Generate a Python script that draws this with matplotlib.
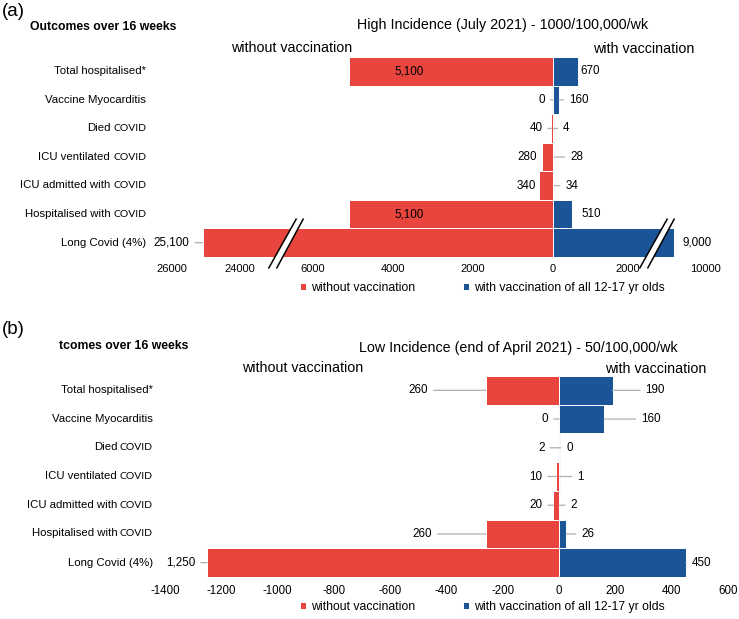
import numpy as np
import matplotlib
matplotlib.use("Agg")
import matplotlib.pyplot as plt
from matplotlib.path import Path
from matplotlib.ticker import FixedLocator, FuncFormatter

plt.rcParams['font.family'] = ['Liberation Sans', 'DejaVu Sans']

# ----------------------------
# data
# ----------------------------
cat_main = ["Total hospitalised*", "Vaccine Myocarditis", "Died", "ICU ventilated",
            "ICU admitted with", "Hospitalised with", "Long Covid (4%)"]
cat_suffix = ["", "", "COVID", "COVID", "COVID", "COVID", ""]

high_without = [5100, 0, 40, 280, 340, 5100, 25100]
high_with = [670, 160, 4, 28, 34, 510, 9000]
high_ticks = [-26000, -24000, -6000, -4000, -2000, 0, 2000, 10000]

low_without = [260, 0, 2, 10, 20, 260, 1250]
low_with = [190, 160, 0, 1, 2, 26, 450]
low_ticks = [-1400, -1200, -1000, -800, -600, -400, -200, 0, 200, 400, 600]

RED = '#e8453f'
BLUE = '#1b5597'
GREY = '#b0b0b0'

W, H = 739, 619
fig = plt.figure(figsize=(W / 100, H / 100), dpi=100)


def px_axes(x0, x1, y0, y1):
    # axes placed by pixel box (y from top)
    return fig.add_axes([x0 / W, 1 - y1 / H, (x1 - x0) / W, (y1 - y0) / H])


# piecewise scale for the broken axis of panel (a)
brk_vals = [-40000, -24000, -22680, -6700, 0, 2750, 8435, 30000]
brk_pos = [-304, 240, 284.88, 285, 553, 656.1, 656.5, 1325]


def fwd(x):
    return np.interp(x, brk_vals, brk_pos)


def inv(y):
    return np.interp(y, brk_pos, brk_vals)


def fmt_num(v):
    return f"{v:,}"


def draw_panel(ax, without, with_, lab_x, off_l, off_r, line_l, line_r, inside):
    rows = np.arange(len(cat_main))
    ax.axvline(0, color='#cfcfcf', lw=1, zorder=0)
    b1 = ax.barh(rows, [-v for v in without], height=1.0, color=RED,
                 edgecolor='white', lw=0.7, label='without vaccination', zorder=2)
    b2 = ax.barh(rows, with_, height=1.0, color=BLUE,
                 edgecolor='white', lw=0.7, label='with vaccination of all 12-17 yr olds', zorder=2)
    ax.set_ylim(6.5, -0.5)
    ax.set_yticks([])
    for s in ax.spines.values():
        s.set_visible(False)
    ax.tick_params(axis='x', length=0, labelsize=8)

    # value labels
    for i in rows:
        if i in inside:
            ax.annotate(fmt_num(without[i]), xy=(-without[i], i), xytext=(inside[i], 0),
                        textcoords='offset points', ha='center', va='center', fontsize=8.4, zorder=3)
        else:
            ap = dict(arrowstyle='-', color=GREY, lw=0.9, shrinkA=2, shrinkB=0) if line_l[i] else None
            ax.annotate(fmt_num(without[i]), xy=(-without[i], i), xytext=(off_l[i], 0),
                        textcoords='offset points', ha='right', va='center', fontsize=8.4,
                        arrowprops=ap, zorder=3)
        ap = dict(arrowstyle='-', color=GREY, lw=0.9, shrinkA=2, shrinkB=0) if line_r[i] else None
        ax.annotate(fmt_num(with_[i]), xy=(with_[i], i), xytext=(off_r[i], 0),
                    textcoords='offset points', ha='left', va='center', fontsize=8.4,
                    arrowprops=ap, zorder=3)

    # category labels, with the small "COVID" suffix
    trans = ax.get_yaxis_transform()
    for i, (m, s) in enumerate(zip(cat_main, cat_suffix)):
        if s:
            t = ax.text(lab_x, i, s, transform=trans, ha='right', va='center',
                        fontsize=7.5, family=['Lato', 'DejaVu Sans'])
            ax.annotate(m, xy=(0, 0), xycoords=t, xytext=(-2.0, 0), textcoords='offset points',
                        ha='right', va='bottom', fontsize=8.2)
        else:
            ax.text(lab_x, i, m, transform=trans, ha='right', va='center', fontsize=8.2)
    return b1, b2


def add_legend(ax, handles, ycen):
    ax.legend(handles=handles, loc='center left', bbox_to_anchor=(300 / W, 1 - ycen / H),
              bbox_transform=fig.transFigure, ncol=2, frameon=False, fontsize=8.8,
              handlelength=0.5, handleheight=0.5, handletextpad=0.4, columnspacing=3.9,
              borderpad=0, borderaxespad=0)


# ----------------------------
# (a) high incidence
# ----------------------------
ax1 = px_axes(172, 705, 57, 257)
ax1.set_xscale('function', functions=(fwd, inv))
ax1.set_xlim(-26000, 10000)
ax1.xaxis.set_major_locator(FixedLocator(high_ticks))
ax1.xaxis.set_major_formatter(FuncFormatter(lambda v, p: f"{abs(int(round(v)))}"))

k = 0.72  # px -> pt
h1 = draw_panel(ax1, high_without, high_with, lab_x=(146 - 172) / (705 - 172),
                off_l=[0, -8 * k, -9 * k, -5 * k, -3 * k, 0, -13 * k],
                off_r=[2 * k, 10 * k, 10 * k, 16 * k, 11 * k, 9 * k, 8 * k],
                line_l=[0, 1, 1, 0, 0, 0, 1], line_r=[0, 1, 1, 1, 1, 0, 0],
                inside={0: 60 * k, 5: 60 * k})
ax1.tick_params(axis='x', pad=5, labelsize=8)

# break marks on the long covid bar
band = Path([(-17, -25), (-9, -25), (18, 25), (11, 25), (-17, -25)])
edges = Path([(-17, -25), (11, 25), (-9, -25), (18, 25)],
             [Path.MOVETO, Path.LINETO, Path.MOVETO, Path.LINETO])
for xb in [-6700, 2750]:
    ax1.plot([xb], [6.0], marker=band, ms=36, mfc='white', mec='none', ls='none',
             clip_on=False, zorder=4)
    ax1.plot([xb], [6.0], marker=edges, ms=36, mfc='none', mec='black', mew=1.1, ls='none',
             clip_on=False, zorder=5)

add_legend(ax1, h1, 288)

fig.text(2 / W, 1 - 12 / H, "(a)", fontsize=13.5, ha='left', va='center')
fig.text(30 / W, 1 - 27 / H, "Outcomes over 16 weeks", fontsize=8.8, fontweight='bold',
         ha='left', va='center')
fig.text(503 / W, 1 - 25 / H, "High Incidence (July 2021) - 1000/100,000/wk", fontsize=10.3,
         ha='center', va='center')
fig.text(292 / W, 1 - 48 / H, "without vaccination", fontsize=10.3, ha='center', va='center')
fig.text(644 / W, 1 - 49 / H, "with vaccination", fontsize=10.3, ha='center', va='center')

# ----------------------------
# (b) low incidence
# ----------------------------
ax2 = px_axes(165, 728, 376, 577)
ax2.set_xlim(-1400, 600)
ax2.xaxis.set_major_locator(FixedLocator(low_ticks))
ax2.xaxis.set_major_formatter(FuncFormatter(lambda v, p: f"{int(round(v))}"))

h2 = draw_panel(ax2, low_without, low_with, lab_x=(153 - 165) / (728 - 165),
                off_l=[-58 * k, -11 * k, -14 * k, -14 * k, -11 * k, -54 * k, -12 * k],
                off_r=[33 * k, 37 * k, 7 * k, 18 * k, 11 * k, 15 * k, 6 * k],
                line_l=[1] * 7, line_r=[1] * 7, inside={})
ax2.tick_params(axis='x', pad=6, labelsize=8.3)

add_legend(ax2, h2, 607)

fig.text(2 / W, 1 - 330 / H, "(b)", fontsize=13.5, ha='left', va='center')
fig.text(59 / W, 1 - 346 / H, "tcomes over 16 weeks", fontsize=8.8, fontweight='bold',
         ha='left', va='center')
fig.text(518 / W, 1 - 348 / H, "Low Incidence (end of April 2021) - 50/100,000/wk",
         fontsize=10.3, ha='center', va='center')
fig.text(303 / W, 1 - 368 / H, "without vaccination", fontsize=10.3, ha='center', va='center')
fig.text(656 / W, 1 - 369 / H, "with vaccination", fontsize=10.3, ha='center', va='center')

fig.savefig("out.png", dpi=100)
